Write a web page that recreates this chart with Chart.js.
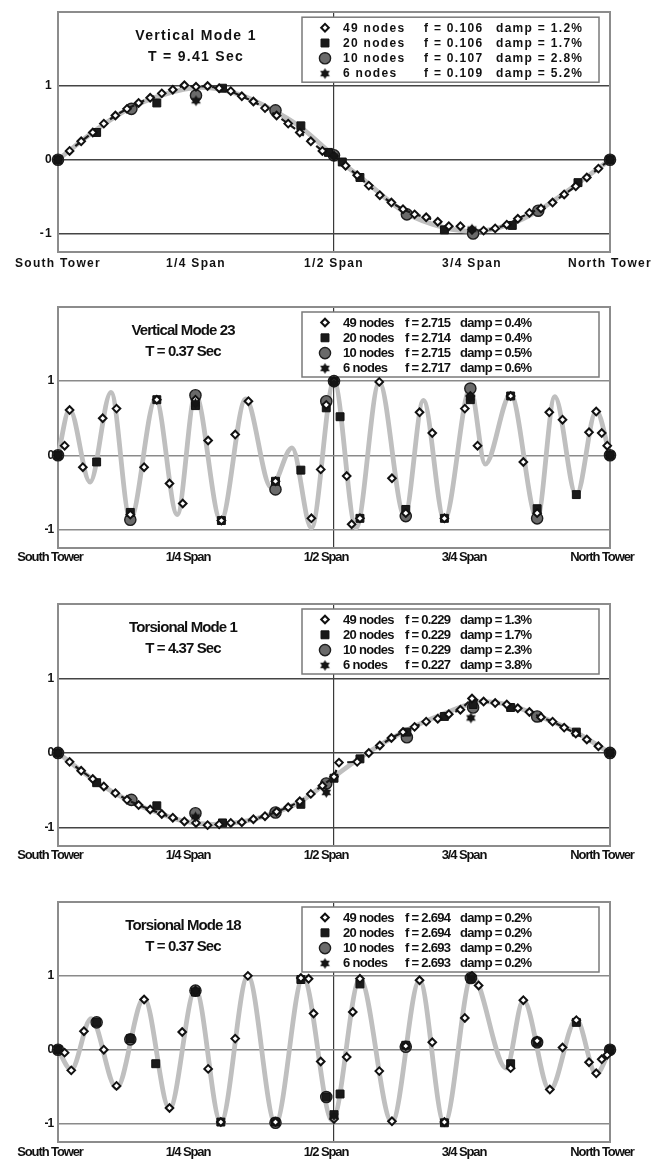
<!DOCTYPE html>
<html>
<head>
<meta charset="utf-8">
<script src="https://cdn.jsdelivr.net/npm/chart.js@4.4.0/dist/chart.umd.min.js"></script>
<style>
body { margin: 0; background: #fff; }
canvas { position: absolute; left: 0; }
</style>
</head>
<body>
<canvas id="c1" width="662" height="285" style="top:0px"></canvas>
<canvas id="c2" width="662" height="285" style="top:290px"></canvas>
<canvas id="c3" width="662" height="285" style="top:585px"></canvas>
<canvas id="c4" width="662" height="285" style="top:876px"></canvas>
<script>
// x = fraction of span (0 = South Tower, 1 = North Tower), y = normalised mode shape
var spanTicks = [0, 0.25, 0.5, 0.75, 1];
var spanLabels = ['South Tower', '1/4 Span', '1/2 Span', '3/4 Span', 'North Tower'];
var yTicks = [-1, 0, 1];
var nodeLabels = ['49 nodes', '20 nodes', '10 nodes', '6 nodes'];

// ---- Vertical Mode 1
var vm1Title = ['Vertical Mode 1', 'T = 9.41 Sec'];
var vm1Freq = ['f = 0.106', 'f = 0.106', 'f = 0.107', 'f = 0.109'];
var vm1Damp = ['damp = 1.2%', 'damp = 1.7%', 'damp = 2.8%', 'damp = 5.2%'];
var vm1Curve = [[0,0],[0.0625,0.37],[0.125,0.68],[0.19,0.88],[0.26,0.98],[0.33,0.88],[0.39,0.67],[0.44,0.44],[0.5,0.05],[0.55,-0.25],[0.63,-0.72],[0.70,-0.92],[0.755,-0.97],[0.82,-0.87],[0.87,-0.69],[0.94,-0.33],[1,0]];
var vm1N49 = [[0,0],[0.021,0.12],[0.042,0.25],[0.063,0.37],[0.083,0.49],[0.104,0.60],[0.125,0.69],[0.146,0.77],[0.167,0.84],[0.188,0.90],[0.208,0.95],[0.229,1.01],[0.25,0.99],[0.271,1.0],[0.292,0.97],[0.313,0.93],[0.333,0.86],[0.354,0.79],[0.375,0.70],[0.396,0.60],[0.417,0.49],[0.438,0.37],[0.458,0.25],[0.479,0.12],[0.5,0.05],[0.521,-0.08],[0.542,-0.21],[0.563,-0.35],[0.583,-0.48],[0.604,-0.58],[0.625,-0.67],[0.646,-0.74],[0.667,-0.78],[0.688,-0.84],[0.708,-0.90],[0.729,-0.90],[0.75,-0.95],[0.771,-0.96],[0.792,-0.93],[0.813,-0.88],[0.833,-0.80],[0.854,-0.72],[0.875,-0.66],[0.896,-0.58],[0.917,-0.47],[0.938,-0.36],[0.958,-0.24],[0.979,-0.12],[1,0]];
var vm1N20 = [[0,0],[0.07,0.37],[0.179,0.77],[0.298,0.97],[0.44,0.46],[0.49,0.10],[0.515,-0.03],[0.547,-0.24],[0.70,-0.95],[0.823,-0.89],[0.942,-0.31],[1,0]];
var vm1N10 = [[0,0],[0.133,0.69],[0.25,0.87],[0.394,0.67],[0.50,0.06],[0.632,-0.74],[0.752,-1.0],[0.87,-0.69],[1,0]];
var vm1N6 = [[0,0],[0.25,0.80],[0.5,0.05],[0.75,-0.94],[1,0]];

// ---- Vertical Mode 23
var vm23Title = ['Vertical Mode 23', 'T = 0.37 Sec'];
var vm23Freq = ['f = 2.715', 'f = 2.714', 'f = 2.715', 'f = 2.717'];
var vm23Damp = ['damp = 0.4%', 'damp = 0.4%', 'damp = 0.5%', 'damp = 0.6%'];
var vm23Curve = [[0,0],[0.021,0.62],[0.058,-0.36],[0.096,0.85],[0.131,-0.86],[0.177,0.76],[0.216,-0.80],[0.249,0.82],[0.295,-0.88],[0.34,0.76],[0.386,-0.43],[0.424,0.10],[0.459,-0.98],[0.5,1.0],[0.54,-0.98],[0.582,0.98],[0.628,-0.82],[0.662,0.74],[0.70,-0.87],[0.747,0.90],[0.774,-0.12],[0.82,0.82],[0.868,-0.85],[0.90,0.79],[0.939,-0.54],[0.975,0.60],[1,0]];
var vm23N49 = [[0,0],[0.012,0.13],[0.021,0.61],[0.045,-0.16],[0.081,0.50],[0.106,0.63],[0.131,-0.80],[0.156,-0.16],[0.179,0.75],[0.202,-0.38],[0.226,-0.65],[0.249,0.75],[0.272,0.20],[0.296,-0.88],[0.321,0.28],[0.345,0.73],[0.394,-0.35],[0.459,-0.85],[0.476,-0.19],[0.486,0.68],[0.5,1.0],[0.523,-0.28],[0.532,-0.93],[0.547,-0.85],[0.582,0.99],[0.605,-0.31],[0.63,-0.78],[0.655,0.58],[0.678,0.30],[0.70,-0.85],[0.737,0.63],[0.747,0.80],[0.76,0.13],[0.82,0.80],[0.843,-0.09],[0.868,-0.78],[0.89,0.58],[0.914,0.48],[0.962,0.31],[0.975,0.59],[0.985,0.30],[0.995,0.13],[1,0]];
var vm23N20 = [[0,0],[0.07,-0.09],[0.131,-0.77],[0.179,0.75],[0.249,0.67],[0.296,-0.88],[0.394,-0.35],[0.44,-0.20],[0.486,0.64],[0.5,1.0],[0.511,0.52],[0.547,-0.85],[0.63,-0.73],[0.70,-0.85],[0.747,0.75],[0.82,0.80],[0.868,-0.72],[0.939,-0.53],[1,0]];
var vm23N10 = [[0,0],[0.131,-0.87],[0.249,0.81],[0.394,-0.46],[0.486,0.73],[0.5,1.0],[0.63,-0.82],[0.747,0.90],[0.868,-0.85],[1,0]];
var vm23N6 = [[0,0],[0.249,0.70],[0.5,0.98],[0.747,0.78],[1,0]];

// ---- Torsional Mode 1
var tm1Title = ['Torsional Mode 1', 'T = 4.37 Sec'];
var tm1Freq = ['f = 0.229', 'f = 0.229', 'f = 0.229', 'f = 0.227'];
var tm1Damp = ['damp = 1.3%', 'damp = 1.7%', 'damp = 2.3%', 'damp = 3.8%'];
var tm1Curve = [[0,0],[0.07,-0.39],[0.133,-0.66],[0.18,-0.80],[0.23,-0.92],[0.28,-0.96],[0.33,-0.93],[0.39,-0.81],[0.44,-0.65],[0.5,-0.32],[0.56,0.0],[0.63,0.30],[0.70,0.53],[0.77,0.69],[0.82,0.64],[0.87,0.50],[0.94,0.27],[1,0]];
var tm1N49 = [[0,0],[0.021,-0.12],[0.042,-0.24],[0.063,-0.35],[0.083,-0.45],[0.104,-0.54],[0.125,-0.63],[0.146,-0.70],[0.167,-0.76],[0.188,-0.82],[0.208,-0.87],[0.229,-0.92],[0.25,-0.94],[0.271,-0.97],[0.292,-0.96],[0.313,-0.94],[0.333,-0.93],[0.354,-0.89],[0.375,-0.85],[0.396,-0.79],[0.417,-0.73],[0.438,-0.65],[0.458,-0.55],[0.479,-0.44],[0.5,-0.32],[0.509,-0.13],[0.542,-0.12],[0.563,0.0],[0.583,0.10],[0.604,0.20],[0.625,0.28],[0.646,0.35],[0.667,0.42],[0.688,0.46],[0.708,0.52],[0.729,0.58],[0.75,0.73],[0.771,0.69],[0.792,0.67],[0.813,0.65],[0.833,0.60],[0.854,0.55],[0.875,0.48],[0.896,0.42],[0.917,0.34],[0.938,0.26],[0.958,0.18],[0.979,0.09],[1,0]];
var tm1N20 = [[0,0],[0.07,-0.40],[0.179,-0.71],[0.298,-0.94],[0.44,-0.69],[0.5,-0.34],[0.547,-0.08],[0.632,0.28],[0.70,0.49],[0.752,0.65],[0.82,0.61],[0.939,0.28],[1,0]];
var tm1N10 = [[0,0],[0.133,-0.63],[0.249,-0.81],[0.394,-0.80],[0.486,-0.41],[0.632,0.21],[0.752,0.61],[0.868,0.49],[1,0]];
var tm1N6 = [[0,0],[0.249,-0.86],[0.486,-0.53],[0.748,0.47],[1,0]];

// ---- Torsional Mode 18
var tm18Title = ['Torsional Mode 18', 'T = 0.37 Sec'];
var tm18Freq = ['f = 2.694', 'f = 2.694', 'f = 2.693', 'f = 2.693'];
var tm18Damp = ['damp = 0.2%', 'damp = 0.2%', 'damp = 0.2%', 'damp = 0.2%'];
var tm18Curve = [[0,0],[0.024,-0.27],[0.06,0.42],[0.106,-0.52],[0.156,0.70],[0.202,-0.80],[0.249,0.82],[0.295,-0.98],[0.344,1.0],[0.394,-1.0],[0.444,0.98],[0.497,-0.96],[0.547,0.96],[0.605,-0.98],[0.655,0.94],[0.70,-1.0],[0.75,1.0],[0.812,-0.25],[0.843,0.67],[0.891,-0.55],[0.939,0.41],[0.975,-0.33],[1,0]];
var tm18N49 = [[0,0],[0.012,-0.04],[0.024,-0.28],[0.047,0.25],[0.083,0.0],[0.106,-0.49],[0.156,0.68],[0.202,-0.79],[0.225,0.24],[0.249,0.80],[0.272,-0.26],[0.295,-0.98],[0.321,0.15],[0.344,1.0],[0.394,-0.98],[0.44,0.97],[0.454,0.96],[0.463,0.49],[0.476,-0.16],[0.5,-0.94],[0.523,-0.10],[0.534,0.51],[0.547,0.96],[0.582,-0.29],[0.605,-0.97],[0.63,0.05],[0.655,0.94],[0.678,0.10],[0.70,-0.98],[0.737,0.43],[0.75,1.0],[0.762,0.87],[0.82,-0.25],[0.843,0.67],[0.868,0.12],[0.891,-0.54],[0.914,0.03],[0.939,0.40],[0.962,-0.17],[0.975,-0.32],[0.985,-0.13],[0.995,-0.07],[1,0]];
var tm18N20 = [[0,0],[0.07,0.37],[0.131,0.15],[0.177,-0.19],[0.249,0.78],[0.295,-0.98],[0.394,-0.98],[0.44,0.95],[0.486,-0.64],[0.5,-0.88],[0.511,-0.60],[0.547,0.89],[0.63,0.06],[0.70,-0.99],[0.748,0.96],[0.82,-0.19],[0.868,0.10],[0.939,0.37],[1,0]];
var tm18N10 = [[0,0],[0.07,0.37],[0.131,0.14],[0.249,0.80],[0.394,-0.99],[0.486,-0.64],[0.63,0.04],[0.748,0.97],[0.868,0.10],[1,0]];
var tm18N6 = [[0,0],[0.249,0.80],[0.5,-0.90],[0.75,0.98],[1,0]];

var FAM = '"Liberation Sans", Arial, sans-serif';

function pts(arr) {
  return arr.map(function (p) { return { x: p[0], y: p[1] }; });
}

// filled six-point star used for the 6-node markers
function starImage(r) {
  var s = Math.ceil(2 * r + 2), c = document.createElement('canvas');
  c.width = s; c.height = s;
  var g = c.getContext('2d');
  g.fillStyle = '#151515';
  [-Math.PI / 2, Math.PI / 2].forEach(function (a0) {
    g.beginPath();
    for (var k = 0; k < 3; k++) {
      var a = a0 + k * 2 * Math.PI / 3;
      g.lineTo(s / 2 + r * Math.cos(a), s / 2 + r * Math.sin(a));
    }
    g.closePath();
    g.fill();
  });
  return c;
}

var markerStyles = [
  { pointStyle: 'rectRot', radius: 3.8, fill: '#ffffff', stroke: '#111111', bw: 2 },
  { pointStyle: 'rect', radius: 5.6, fill: '#1a1a1a', stroke: '#111111', bw: 1 },
  { pointStyle: 'circle', radius: 5.6, fill: '#6a6a6a', stroke: '#1e1e1e', bw: 1.4 },
  { pointStyle: starImage(5.5), radius: 5, fill: '#111111', stroke: '#111111', bw: 1 }
];

// title + legend box, drawn before the markers so markers sit on top
var panelText = {
  id: 'panelText',
  beforeDraw: function (chart, args, o) {
    chart.ctx.letterSpacing = o.spacing;
  },
  beforeDatasetsDraw: function (chart, args, o) {
    var ctx = chart.ctx, a = chart.chartArea;
    ctx.save();
    ctx.letterSpacing = o.titleSpacing;
    ctx.fillStyle = '#111';
    ctx.textAlign = 'center';
    ctx.textBaseline = 'middle';
    ctx.font = 'bold ' + o.titleSize + 'px ' + FAM;
    o.title.forEach(function (t, i) {
      ctx.fillText(t, a.left + o.titleX, a.top + 23.5 + i * 21.5);
    });

    var bx = a.left + 244, by = a.top + 5;
    ctx.fillStyle = '#fff';
    ctx.fillRect(bx, by, 297, 65);
    ctx.strokeStyle = '#7a7a7a';
    ctx.lineWidth = 1.5;
    ctx.strokeRect(bx, by, 297, 65);

    ctx.textAlign = 'left';
    ctx.letterSpacing = o.legendSpacing;
    ctx.font = 'bold ' + o.legendSize + 'px ' + FAM;
    for (var i = 0; i < 4; i++) {
      var y = a.top + 15.5 + i * 15.3;
      var m = markerStyles[i];
      ctx.fillStyle = m.fill;
      ctx.strokeStyle = m.stroke;
      ctx.lineWidth = m.bw;
      Chart.helpers.drawPoint(ctx, { pointStyle: m.pointStyle, radius: m.radius, rotation: 0, borderWidth: m.bw }, a.left + 267, y);
      ctx.fillStyle = '#111';
      ctx.fillText(nodeLabels[i], a.left + 285, y + 0.5);
      ctx.fillText(o.freq[i], a.left + o.col2, y + 0.5);
      ctx.fillText(o.damp[i], a.left + o.col3, y + 0.5);
    }
    ctx.restore();
  }
};

function markerSet(label, data, m, order, extra) {
  var ds = {
    label: label,
    data: pts(data),
    pointStyle: m.pointStyle,
    pointRadius: m.radius,
    pointBackgroundColor: m.fill,
    pointBorderColor: m.stroke,
    pointBorderWidth: m.bw,
    showLine: false,
    clip: false,
    order: order
  };
  for (var k in extra) ds[k] = extra[k];
  return ds;
}

function makeChart(id, p) {
  var tickFont = { family: FAM, size: p.tickSize, weight: 'bold' };
  var dashed = p.dashed ? { showLine: true, borderColor: '#1a1a1a', borderWidth: 2.2, borderDash: [6, 5] } : {};
  var H = 285;
  return new Chart(document.getElementById(id).getContext('2d'), {
    type: 'scatter',
    data: {
      datasets: [
        {
          label: 'mode shape',
          data: pts(p.curve),
          showLine: true,
          borderColor: '#bfbfbf',
          borderWidth: 4.8,
          pointRadius: 0,
          cubicInterpolationMode: 'monotone',
          clip: false,
          order: 6
        },
        markerSet(nodeLabels[2], p.n10, markerStyles[2], 4, {}),
        markerSet(nodeLabels[1], p.n20, markerStyles[1], 3, {}),
        markerSet(nodeLabels[0], p.n49, markerStyles[0], 2, dashed),
        markerSet(nodeLabels[3], p.n6, markerStyles[3], 1, {})
      ]
    },
    options: {
      responsive: false,
      animation: false,
      events: [],
      layout: { padding: { top: p.plotTop - p.top, right: 52, left: 0, bottom: 0 } },
      plugins: {
        legend: { display: false },
        tooltip: { enabled: false },
        panelText: {
          title: p.title, freq: p.freq, damp: p.damp,
          spacing: p.narrow ? '-1.1px' : '1.3px',
          titleSpacing: p.narrow ? '-0.9px' : '1.3px',
          legendSpacing: p.narrow ? '-0.7px' : '1.3px',
          titleSize: p.narrow ? 15 : 14, legendSize: p.narrow ? 13 : 12,
          titleX: p.narrow ? 125 : 138,
          col2: p.narrow ? 347 : 366, col3: p.narrow ? 402 : 438
        }
      },
      scales: {
        x: {
          type: 'linear', position: 'bottom', min: 0, max: 1,
          afterBuildTicks: function (s) { s.ticks = spanTicks.map(function (v) { return { value: v }; }); },
          afterFit: function (s) { s.height = H - (p.plotBottom - p.top); },
          ticks: {
            autoSkip: false, maxRotation: 0, padding: p.labelPad, labelOffset: p.narrow ? -8 : 0,
            color: '#111', font: tickFont,
            callback: function (v) { return spanLabels[Math.round(v * 4)]; }
          },
          grid: {
            drawTicks: false, lineWidth: 1.2,
            color: function (c) { return c.tick && c.tick.value === 0.5 ? '#3a3a3a' : 'rgba(0,0,0,0)'; }
          },
          border: { color: '#8c8c8c', width: 2 }
        },
        xTop: {
          type: 'linear', position: 'top', min: 0, max: 1,
          afterFit: function (s) { s.height = 0; },
          ticks: { display: false }, grid: { display: false },
          border: { color: '#8c8c8c', width: 2 }
        },
        y: {
          type: 'linear', position: 'left', min: -1.25, max: 2,
          afterBuildTicks: function (s) { s.ticks = yTicks.map(function (v) { return { value: v }; }); },
          afterFit: function (s) { s.width = 58; },
          ticks: { padding: 5, color: '#111', font: { family: FAM, size: 12, weight: 'bold' } },
          grid: { drawTicks: false, color: p.gridColor, lineWidth: 1.5 },
          border: { color: '#8c8c8c', width: 2 }
        },
        yRight: {
          type: 'linear', position: 'right', min: -1.25, max: 2,
          afterFit: function (s) { s.width = 0; },
          ticks: { display: false }, grid: { display: false },
          border: { color: '#8c8c8c', width: 2 }
        }
      }
    },
    plugins: [panelText]
  });
}

makeChart('c1', { curve: vm1Curve, n49: vm1N49, n20: vm1N20, n10: vm1N10, n6: vm1N6, title: vm1Title, freq: vm1Freq, damp: vm1Damp,
  top: 0, plotTop: 10, plotBottom: 252, labelPad: 4, tickSize: 12, narrow: false, dashed: true, gridColor: '#444' });
makeChart('c2', { curve: vm23Curve, n49: vm23N49, n20: vm23N20, n10: vm23N10, n6: vm23N6, title: vm23Title, freq: vm23Freq, damp: vm23Damp,
  top: 290, plotTop: 307, plotBottom: 548, labelPad: 2, tickSize: 13, narrow: true, dashed: false, gridColor: '#8a8a8a' });
makeChart('c3', { curve: tm1Curve, n49: tm1N49, n20: tm1N20, n10: tm1N10, n6: tm1N6, title: tm1Title, freq: tm1Freq, damp: tm1Damp,
  top: 585, plotTop: 604, plotBottom: 846, labelPad: 2, tickSize: 13, narrow: true, dashed: true, gridColor: '#444' });
makeChart('c4', { curve: tm18Curve, n49: tm18N49, n20: tm18N20, n10: tm18N10, n6: tm18N6, title: tm18Title, freq: tm18Freq, damp: tm18Damp,
  top: 876, plotTop: 902, plotBottom: 1142, labelPad: 3, tickSize: 13, narrow: true, dashed: false, gridColor: '#8a8a8a' });
</script>
</body>
</html>
